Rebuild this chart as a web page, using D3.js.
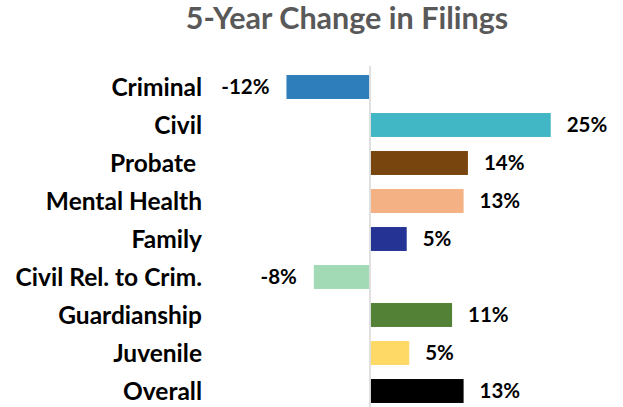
<!DOCTYPE html>
<html><head><meta charset="utf-8">
<script src="https://cdn.jsdelivr.net/npm/d3@7"></script>
<style>body{margin:0;background:#fff}svg{display:block}</style>
</head><body>
<svg id="c" width="623" height="407"></svg>
<script>
const categories = ["Criminal","Civil","Probate ","Mental Health","Family","Civil Rel. to Crim.","Guardianship","Juvenile","Overall"];
const values = [-11.6, 25.1, 13.6, 13.0, 5.1, -7.8, 11.4, 5.45, 13.0];
const colors = ["#2E7EBB","#41B6C4","#78450E","#F4B183","#253494","#A1DAB4","#538135","#FFD966","#000000"];
const title = "5-Year Change in Filings";

const svg = d3.select("#c");
const font = "Lato, 'Open Sans', sans-serif";

const x = d3.scaleLinear().domain([-12, 26]).range([370 - 12*7.2, 370 + 26*7.2]);
const y = d3.scaleBand().domain(categories).range([68, 410]).paddingInner(0.37).paddingOuter(0.185);

svg.append("text").attr("x", 347).attr("y", 29).attr("text-anchor","middle")
  .attr("font-family", font).attr("font-weight","bold").attr("font-size", 30.5)
  .attr("fill","#595959").text(title);

const data = categories.map((c,i)=>({c, v: values[i], col: colors[i]}));

svg.selectAll("rect.bar").data(data).join("rect").attr("class","bar")
  .attr("x", d => d.v < 0 ? x(d.v) : x(0) + 0.8)
  .attr("width", d => Math.abs(x(d.v) - x(0)) - 0.8)
  .attr("y", d => y(d.c)).attr("height", y.bandwidth())
  .attr("fill", d => d.col);

svg.append("line").attr("x1", x(0)).attr("x2", x(0)).attr("y1", 66).attr("y2", 407)
  .attr("stroke","#D9D9D9").attr("stroke-width",1.6);

svg.selectAll("text.cat").data(data).join("text").attr("class","cat")
  .attr("x", 202).attr("y", d => y(d.c) + y.bandwidth()/2).attr("dy","0.36em")
  .attr("text-anchor","end").style("white-space","pre")
  .attr("font-family", font).attr("font-weight","bold").attr("font-size", 24.5)
  .attr("fill","#000").text(d => d.c);

const fmt = v => (v < 0 ? "-" : "") + Math.round(Math.abs(v)) + "%";
svg.selectAll("text.val").data(data).join("text").attr("class","val")
  .attr("x", d => d.v < 0 ? x(d.v) - 17 : x(d.v) + 16)
  .attr("y", d => y(d.c) + y.bandwidth()/2).attr("dy","0.36em")
  .attr("text-anchor", d => d.v < 0 ? "end" : "start")
  .attr("font-family", font).attr("font-weight","bold").attr("font-size", 20.5)
  .attr("fill","#000").text(d => fmt(d.v));
</script>
</body></html>
